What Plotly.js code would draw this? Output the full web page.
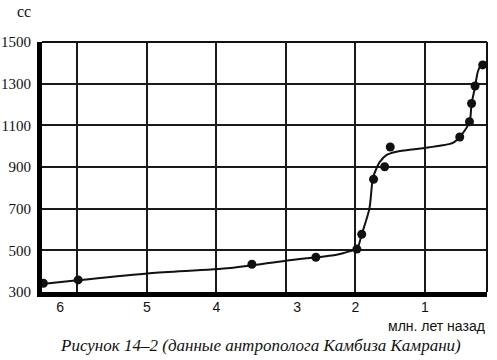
<!DOCTYPE html>
<html><head><meta charset="utf-8">
<script src="https://cdn.plot.ly/plotly-3.0.1.min.js"></script>
<style>html,body{margin:0;padding:0;background:#fff}</style>
</head><body>
<div id="chart" style="width:497px;height:360px"></div>
<script>
// Fossil skull finds: age (million years ago) and cranial capacity (cc)
const findAge = [6.49, 5.99, 3.49, 2.57, 1.98, 1.91, 1.74, 1.58, 1.50, 0.50, 0.36, 0.33, 0.28, 0.17];
const findCC  = [342, 358, 433, 467, 506, 577, 841, 901, 996, 1044, 1117, 1205, 1289, 1390];
// Trend curve drawn through the finds
const curveAge = [6.51, 6.0, 4.96, 3.80, 3.0, 2.29, 2.18, 2.07, 1.98, 1.91, 1.80, 1.75, 1.69, 1.65, 1.55, 1.41, 1.07, 0.64, 0.57, 0.50, 0.36, 0.33, 0.28, 0.24, 0.20, 0.12];
const curveCC  = [338, 356, 390, 415, 450, 478, 486, 497, 506, 577, 700, 845, 900, 925, 958, 973, 989, 1011, 1022, 1044, 1116, 1203, 1284, 1357, 1385, 1404];
const yTicks = [300, 500, 700, 900, 1100, 1300, 1500];
const xGrid = [6, 5, 4, 3, 2, 1];
const xLabels = ['6', '5', '4', '3', '2', '1'];

const xr = [6.51, 0.108];
const data = [
  {x: curveAge, y: curveCC, mode: 'lines', type: 'scatter', line: {color: '#111', width: 2, shape: 'spline', smoothing: 0.8}, hoverinfo: 'skip', cliponaxis: false},
  {x: findAge, y: findCC, xaxis: 'x2', mode: 'markers', type: 'scatter', marker: {color: '#111', size: 9}, cliponaxis: false}
];
const layout = {
  width: 497, height: 360,
  margin: {l: 42, r: 10, t: 42, b: 68},
  paper_bgcolor: '#fff', plot_bgcolor: '#fff',
  showlegend: false,
  xaxis: {range: xr, tickvals: xGrid, showticklabels: false, ticks: '',
          showgrid: true, gridcolor: '#1a1a1a', gridwidth: 2,
          showline: true, linecolor: '#000', linewidth: 5, zeroline: false},
  xaxis2: {range: xr, overlaying: 'x', side: 'bottom', anchor: 'y',
           tickvals: [6.25, 5, 4, 2.84, 2, 1], ticktext: xLabels, ticks: '',
           showgrid: false, showline: false, zeroline: false, ticklabelstandoff: 5,
           tickfont: {family: 'Liberation Sans, Arial, sans-serif', size: 14, color: '#111'}},
  yaxis: {range: [300, 1500], tickvals: yTicks, ticks: '',
          showgrid: true, gridcolor: '#1a1a1a', gridwidth: 2,
          showline: true, linecolor: '#000', linewidth: 5, zeroline: false,
          ticklabelstandoff: 3,
          tickfont: {family: 'Liberation Serif, Times New Roman, serif', size: 15, color: '#111'}},
  shapes: [
    {type: 'line', xref: 'paper', yref: 'paper', x0: 0, x1: 1, y0: 1, y1: 1, line: {color: '#111', width: 2}},
    {type: 'line', xref: 'paper', yref: 'paper', x0: 1, x1: 1, y0: 0, y1: 1, line: {color: '#111', width: 2}}
  ],
  annotations: [
    {text: 'cc', xref: 'paper', yref: 'paper', x: -0.04, y: 1.12, showarrow: false,
     font: {family: 'Liberation Serif, serif', size: 16, color: '#111'}, xanchor: 'center', yanchor: 'middle'},
    {text: 'млн. лет назад', xref: 'paper', yref: 'paper', x: 1.0, y: -0.135, showarrow: false,
     font: {family: 'Liberation Sans, Arial, sans-serif', size: 14, color: '#111'}, xanchor: 'right', yanchor: 'middle'},
    {text: '<i>Рисунок 14–2 (данные антрополога Камбиза Камрани)</i>', xref: 'paper', yref: 'paper', x: 0.49, y: -0.215,
     showarrow: false, font: {family: 'Liberation Serif, Times New Roman, serif', size: 17, color: '#111'},
     xanchor: 'center', yanchor: 'middle'}
  ]
};
Plotly.newPlot('chart', data, layout, {staticPlot: true, displayModeBar: false});
</script>
</body></html>
